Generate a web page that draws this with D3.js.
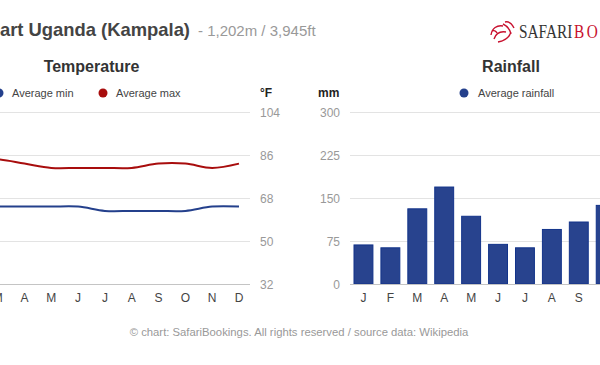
<!DOCTYPE html>
<html>
<head>
<meta charset="utf-8">
<script src="https://cdn.jsdelivr.net/npm/d3@7"></script>
<style>
  html, body { margin: 0; padding: 0; background: #fff; overflow: hidden; }
  svg { display: block; font-family: "Liberation Sans", Arial, sans-serif; }
</style>
</head>
<body>
<div id="chart"></div>
<script>
// ------- data -------
const monthKeys = ["Jan","Feb","Mar","Apr","May","Jun","Jul","Aug","Sep","Oct","Nov","Dec"];
const monthLabels = ["J","F","M","A","M","J","J","A","S","O","N","D"];
const tempMaxF = [82.4, 84.2, 84.2, 82.4, 80.6, 80.6, 80.6, 80.6, 82.4, 82.4, 80.6, 82.4];
const tempMinF = [64.4, 64.4, 64.4, 64.4, 64.4, 64.4, 62.6, 62.6, 62.6, 62.6, 64.4, 64.4];
const rainfallMm = [69, 64, 132, 170, 119, 70, 64, 96, 109, 138, 135, 94];
const tempTicks = [32, 50, 68, 86, 104];
const rainTicks = [0, 75, 150, 225, 300];

const W = 600, H = 365;
const TOP = 112, BOTTOM = 284;
const GRID = "#e3e3e3", BASE = "#c4c4c4";
const BLUE = "#24408c", RED = "#a80d0d";

const svg = d3.select("#chart").append("svg")
  .attr("width", W).attr("height", H)
  .attr("viewBox", `0 0 ${W} ${H}`);

// ------- header -------
svg.append("text")
  .attr("x", 190).attr("y", 36)
  .attr("text-anchor", "end")
  .attr("fill", "#444")
  .style("font-size", "18.4px").style("font-weight", "bold")
  .text("Climate chart Uganda (Kampala)");

svg.append("text")
  .attr("x", 198).attr("y", 36)
  .attr("fill", "#999")
  .style("font-size", "15px")
  .text("- 1,202m / 3,945ft");

// logo (rough tiger mark + wordmark)
const logo = svg.append("g").attr("fill", "none").attr("stroke", "#c8102e").attr("stroke-width", 1.4);
logo.append("path").attr("d", "M491,35 C492,28 497,25 503,26 M494,39 C496,33 500,31 506,32 M498,42 C504,41 509,38 511,32 M503,24 C507,26 510,29 511,34 M505,22 C509,21 512,24 514,28 M492,31 C494,30 496,31 497,33");
const word = svg.append("g").attr("transform", "translate(519,38) scale(0.85,1)")
  .append("text")
  .attr("x", 0).attr("y", 0)
  .style("font-family", "'Liberation Serif', 'DejaVu Serif', serif")
  .style("font-size", "18px");
word.append("tspan").attr("fill", "#333").text("SAFARI");
word.append("tspan").attr("fill", "#c8102e").attr("dx", 2)
  .style("letter-spacing", "3px").text("BOOKINGS");

// ------- temperature -------
const xT = d3.scaleBand().domain(monthKeys).range([-69.4, 252.4]).padding(0);
const yT = d3.scaleLinear().domain([32, 104]).range([BOTTOM, TOP]);
const gT = svg.append("g");

gT.append("text")
  .attr("x", (xT.range()[0] + xT.range()[1]) / 2).attr("y", 72)
  .attr("text-anchor", "middle").attr("fill", "#333")
  .style("font-size", "16px").style("font-weight", "bold")
  .text("Temperature");

gT.selectAll("line.grid").data(tempTicks).enter().append("line")
  .attr("x1", xT.range()[0]).attr("x2", 250)
  .attr("y1", d => Math.round(yT(d)) + 0.5).attr("y2", d => Math.round(yT(d)) + 0.5)
  .attr("stroke", d => d === 32 ? BASE : GRID);

gT.selectAll("text.tick").data(tempTicks).enter().append("text")
  .attr("x", 260).attr("y", d => yT(d) + 4.5)
  .attr("fill", "#999").style("font-size", "12px")
  .text(d => d);

gT.append("text").attr("x", 260).attr("y", 97)
  .attr("fill", "#222").style("font-size", "12px").style("font-weight", "bold")
  .text("°F");

gT.selectAll("text.month").data(monthKeys).enter().append("text")
  .attr("x", d => xT(d) + xT.bandwidth() / 2).attr("y", 302)
  .attr("text-anchor", "middle").attr("fill", "#444").style("font-size", "12px")
  .text((d, i) => monthLabels[i]);

const line = d3.line()
  .x((d, i) => xT(monthKeys[i]) + xT.bandwidth() / 2)
  .y(d => yT(d))
  .curve(d3.curveCatmullRom);

gT.append("path").attr("d", line(tempMinF))
  .attr("fill", "none").attr("stroke", BLUE).attr("stroke-width", 2);
gT.append("path").attr("d", line(tempMaxF))
  .attr("fill", "none").attr("stroke", RED).attr("stroke-width", 2);

// legend
const legT = [
  { label: "Average min", color: BLUE, x: -1 },
  { label: "Average max", color: RED, x: 103 }
];
legT.forEach(l => {
  gT.append("circle").attr("cx", l.x).attr("cy", 93).attr("r", 4.5).attr("fill", l.color);
  gT.append("text").attr("x", l.x + 13).attr("y", 97)
    .attr("fill", "#444").style("font-size", "11px").text(l.label);
});

// ------- rainfall -------
const xR = d3.scaleBand().domain(monthKeys).range([350, 673]).paddingInner(0.26).paddingOuter(0.13);
const yR = d3.scaleLinear().domain([0, 300]).range([BOTTOM, TOP]);
const gR = svg.append("g");

gR.append("text")
  .attr("x", 511).attr("y", 72)
  .attr("text-anchor", "middle").attr("fill", "#333")
  .style("font-size", "16px").style("font-weight", "bold")
  .text("Rainfall");

gR.selectAll("line.grid").data(rainTicks.filter(d => d > 0)).enter().append("line")
  .attr("x1", 350).attr("x2", 673)
  .attr("y1", d => Math.round(yR(d)) + 0.5).attr("y2", d => Math.round(yR(d)) + 0.5)
  .attr("stroke", GRID);

gR.selectAll("rect").data(rainfallMm).enter().append("rect")
  .attr("x", (d, i) => xR(monthKeys[i]) + 0.5)
  .attr("y", d => yR(d) + 0.5)
  .attr("width", xR.bandwidth() - 1)
  .attr("height", d => yR(0) - yR(d) - 0.5)
  .attr("fill", "#28438e").attr("stroke", "#12338a").attr("stroke-width", 1);

gR.append("line")
  .attr("x1", 350).attr("x2", 673)
  .attr("y1", Math.round(yR(0)) + 0.5).attr("y2", Math.round(yR(0)) + 0.5)
  .attr("stroke", BASE);

gR.selectAll("text.tick").data(rainTicks).enter().append("text")
  .attr("x", 340).attr("y", d => yR(d) + 4.5)
  .attr("text-anchor", "end")
  .attr("fill", "#999").style("font-size", "12px")
  .text(d => d);

gR.append("text").attr("x", 318).attr("y", 97)
  .attr("fill", "#222").style("font-size", "12px").style("font-weight", "bold")
  .text("mm");

gR.selectAll("text.month").data(monthKeys).enter().append("text")
  .attr("x", d => xR(d) + xR.bandwidth() / 2).attr("y", 302)
  .attr("text-anchor", "middle").attr("fill", "#444").style("font-size", "12px")
  .text((d, i) => monthLabels[i]);

gR.append("circle").attr("cx", 464).attr("cy", 93).attr("r", 4.5).attr("fill", BLUE);
gR.append("text").attr("x", 478).attr("y", 97)
  .attr("fill", "#444").style("font-size", "11px").text("Average rainfall");

// ------- footer -------
svg.append("text")
  .attr("x", 299).attr("y", 336)
  .attr("text-anchor", "middle").attr("fill", "#999")
  .style("font-size", "11.3px")
  .text("© chart: SafariBookings. All rights reserved / source data: Wikipedia");
</script>
</body>
</html>
